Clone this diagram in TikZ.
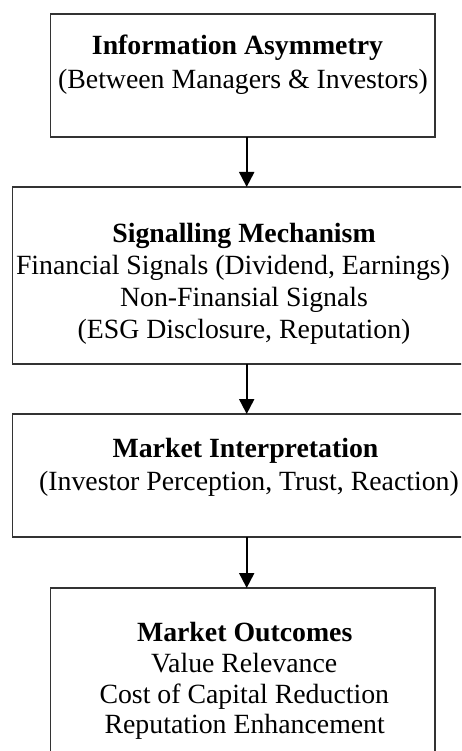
\documentclass[tikz,border=0pt]{standalone}
\usepackage{fontspec}
\setmainfont{Liberation Serif}
\usetikzlibrary{arrows.meta}
\tikzset{
  box/.style={draw=black!80, line width=1.3pt, inner sep=0pt, outer sep=0pt, anchor=north west},
  txt/.style={inner sep=0pt, outer sep=0pt, anchor=base, font=\fontsize{27.8}{32}\selectfont},
  arr/.style={line width=2pt, -{Triangle[width=15pt,length=15pt]}}
}
\begin{document}
\begin{tikzpicture}[x=1pt,y=-1pt]
\useasboundingbox (0,0) rectangle (461,751);
\fill[white] (0,0) rectangle (461,751);
\clip (0,0) rectangle (461,751);
% boxes
\node[box, minimum width=384.3pt, minimum height=123pt] (b1) at (50.7,14) {};
\node[box, minimum width=462pt, minimum height=177pt] (b2) at (12.7,187) {};
\node[box, minimum width=462pt, minimum height=123pt] (b3) at (12.7,414) {};
\node[box, minimum width=384.3pt, minimum height=180pt] (b4) at (50.7,588) {};
\coordinate (ax) at (246.7,0);
% texts
\node[txt] (t1a) at (237.5,55) {\bfseries Information Asymmetry};
\node[txt] (t1b) at (243,89) {(Between Managers \& Investors)};
\node[txt] (t2a) at (244,242) {\bfseries Signalling Mechanism};
\node[txt] (t2b) at (233,274) {Financial Signals (Dividend, Earnings)};
\node[txt] (t2c) at (244,306) {Non-Finansial Signals};
\node[txt] (t2d) at (244,338) {(ESG Disclosure, Reputation)};
\node[txt] (t3a) at (245.5,457) {\bfseries Market Interpretation};
\node[txt] (t3b) at (249,490) {(Investor Perception, Trust, Reaction)};
\node[txt] (t4a) at (244.7,641) {\bfseries Market Outcomes};
\node[txt] (t4b) at (244.2,672) {Value Relevance};
\node[txt] (t4c) at (244.3,703) {Cost of Capital Reduction};
\node[txt] (t4d) at (244.7,733) {Reputation Enhancement};
% arrows
\draw[arr] (b1.south -| ax) -- (b2.north -| ax);
\draw[arr] (b2.south -| ax) -- (b3.north -| ax);
\draw[arr] (b3.south -| ax) -- (b4.north -| ax);
\end{tikzpicture}
\end{document}
